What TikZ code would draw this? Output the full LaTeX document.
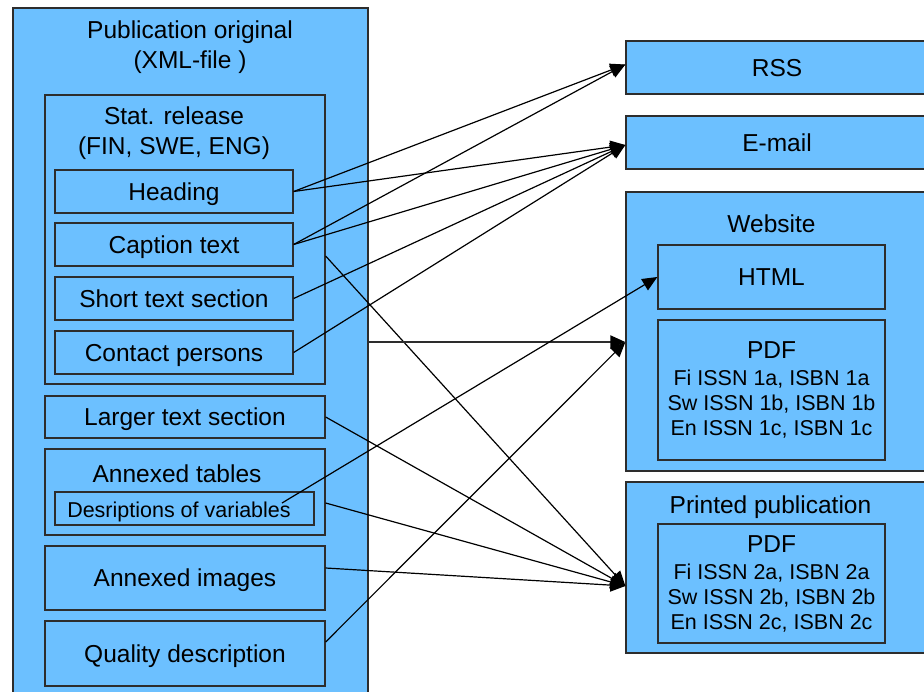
\documentclass[tikz,border=0pt]{standalone}
\usepackage{fontspec}
\setmainfont{Liberation Sans}
\usetikzlibrary{arrows.meta}
\definecolor{boxblue}{RGB}{108,192,255}
\definecolor{boxline}{RGB}{45,45,45}
\newcommand\bigfnt{\fontsize{24.5}{30}\selectfont}
\newcommand\smallfnt{\fontsize{21.5}{25}\selectfont}

\begin{document}
\begin{tikzpicture}[x=1pt,y=-1pt,
        box/.style={draw=boxline,line width=1.3pt,fill=boxblue,inner sep=0pt},
        big/.style={font=\bigfnt,text height=22pt,text depth=5pt},
        small/.style={font=\smallfnt,text height=19.5pt,text depth=4.5pt},
        title/.style={font=\bigfnt,align=center},
        pdfbox/.style={minimum width=227pt,align=center,font=\smallfnt}]
    \useasboundingbox (0,0) rectangle (924,691);
    \clip (0,0) rectangle (924,691);
    \begin{scope}[every node/.style={box}]
        \node[minimum width=355pt,minimum height=712pt] (pubo)   at (190.5,364) {};
        \node[minimum width=280pt,minimum height=289pt] (stat)   at (185,239.5) {};
        \node[minimum width=238pt,minimum height=43pt,big] (heading) at (174,191.5) {Heading};
        \node[minimum width=238pt,minimum height=43pt,big] (caption) at (174,244.5) {Caption text};
        \node[minimum width=238pt,minimum height=43pt,big] (short)   at (174,298.5) {Short text section};
        \node[minimum width=238pt,minimum height=43pt,big] (contact) at (174,352.5) {Contact persons};
        \node[minimum width=280pt,minimum height=42pt,big] (larger)  at (185,417) {Larger text section};
        \node[minimum width=280pt,minimum height=86pt] (tables)  at (185,492) {};
        \node[minimum width=259pt,minimum height=33pt] (desc)    at (184.5,508.5) {};
        \node[minimum width=280pt,minimum height=64pt,big] (images)  at (185,578) {Annexed images};
        \node[minimum width=280pt,minimum height=65pt,big] (quality) at (185,653.5) {Quality description};

        \node[minimum width=302pt,minimum height=53pt,big] (rss)   at (777,67.5) {RSS};
        \node[minimum width=302pt,minimum height=53pt,big] (email) at (777,142.5) {E-mail};
        \node[minimum width=302pt,minimum height=279pt] (web)   at (777,331.5) {};
        \node[minimum width=227pt,minimum height=64pt,big] (html)  at (771.5,277) {HTML};
        \node[pdfbox,minimum height=140pt] (webpdf) at (771.5,390)
            {{\bigfnt PDF}\\[2pt]Fi ISSN 1a, ISBN 1a\\Sw ISSN 1b, ISBN 1b\\En ISSN 1c, ISBN 1c};
        \node[minimum width=302pt,minimum height=171pt] (print) at (777,567.5) {};
        \node[pdfbox,minimum height=119pt] (prtpdf) at (771.5,583.5)
            {{\bigfnt PDF}\\[2pt]Fi ISSN 2a, ISBN 2a\\Sw ISSN 2b, ISBN 2b\\En ISSN 2c, ISBN 2c};
    \end{scope}
    \node[title] (pubotitle)  at (190,47)    {Publication original\\(XML-file )};
    \node[title] (stattitle)  at (174,133)   {Stat. release\\(FIN, SWE, ENG)};
    \node[big]   (tabletitle) at (177,474)   {Annexed tables};
    \node[small] (desctext)   at (179,510)   {Desriptions of variables};
    \node[big]   (webtitle)   at (771.5,224) {Website};
    \node[big]   (prttitle)   at (770.5,505) {Printed publication};
    \coordinate (descout) at (282,503);
    \begin{scope}[line width=1.2pt,-{Triangle[length=15pt,width=13pt,color=black]}]
        \draw (heading.east) -- ([yshift=3pt]rss.west);
        \draw (heading.east) -- ([yshift=-2.5pt]email.west);
        \draw (caption.east) -- ([yshift=3pt]rss.west);
        \draw (caption.east) -- ([yshift=-2.5pt]email.west);
        \draw (short.east) -- ([yshift=-2.5pt]email.west);
        \draw (contact.east) -- ([yshift=-2.5pt]email.west);
        \draw ([yshift=-16.5pt]stat.east) -- ([yshift=-18.5pt]print.west);
        \draw[draw=boxline,line width=2pt] ([yshift=22pt]pubo.east) -- ([yshift=-10.5pt]web.west);
        \draw (descout) -- (html.west);
        \draw (larger.east) -- ([yshift=-18.5pt]print.west);
        \draw ([yshift=-11pt]tables.east) -- ([yshift=-18.5pt]print.west);
        \draw ([yshift=10pt]images.east) -- ([yshift=-18.5pt]print.west);
        \draw ([yshift=11.5pt]quality.east) -- ([yshift=-10.5pt]web.west);
    \end{scope}
\end{tikzpicture}
\end{document}
